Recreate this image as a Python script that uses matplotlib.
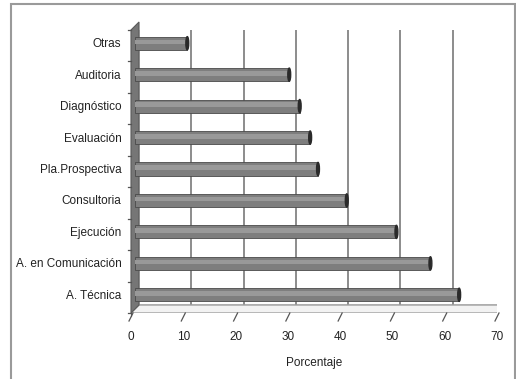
import numpy as np
import matplotlib.pyplot as plt
from matplotlib.patches import Polygon, Rectangle, Ellipse
from matplotlib.transforms import ScaledTranslation

plt.rcParams['font.family'] = ['Liberation Sans', 'DejaVu Sans']

# data (bottom to top)
categorias = ['A. Técnica', 'A. en Comunicación', 'Ejecución', 'Consultoria',
              'Pla.Prospectiva', 'Evaluación', 'Diagnóstico', 'Auditoria', 'Otras']
porcentajes = [62, 56.5, 50, 40.5, 35, 33.5, 31.5, 29.5, 10]
xticks = [0, 10, 20, 30, 40, 50, 60, 70]

W, H, DPI = 516, 379, 100
fig = plt.figure(figsize=(W / DPI, H / DPI), dpi=DPI)

# front plane of the pseudo-3d box, in pixels
left, right, bottom, top = 131, 497, 313, 30
ax = fig.add_axes([left / W, (H - bottom) / H, (right - left) / W, (bottom - top) / H])
ax.set_xlim(0, 70)
ax.set_ylim(-0.5, len(categorias) - 0.5)
for s in ax.spines.values():
    s.set_visible(False)

y = np.arange(len(categorias))
ymin, ymax = -0.5, len(categorias) - 0.5
xpp = 70 / (right - left)        # data units per pixel
ypp = len(categorias) / (bottom - top)
depth_x, depth_y = 8, 8          # pixel depth of the box
dx, dy = depth_x * xpp, depth_y * ypp

def shift(px, py):
    return ax.transData + ScaledTranslation(px / DPI, py / DPI, fig.dpi_scale_trans)

# back wall and gridlines
back = shift(depth_x, depth_y)
ax.add_patch(Rectangle((0, ymin), 70, ymax - ymin, facecolor='white',
                       edgecolor='#c8c8c8', lw=1.2, transform=back, zorder=0))
for v in xticks[1:-1]:
    ax.plot([v, v], [ymin, ymax], color='#8c8c8c', lw=1.4, transform=back, zorder=1)

# floor
ax.add_patch(Polygon([(0, ymin), (70, ymin), (70 + dx, ymin + dy), (dx, ymin + dy)],
                     closed=True, facecolor='#f2f2f2', edgecolor='#a0a0a0', lw=1,
                     zorder=1))
ax.plot([0, 70], [ymin - 3 * ypp] * 2, color='#b0b0b0', lw=1, zorder=1)
ax.plot([70, 70], [ymin, ymin - 3 * ypp], color='#b0b0b0', lw=1, zorder=1)

# left wall
ax.add_patch(Polygon([(0, ymin), (0, ymax), (dx, ymax + dy), (dx, ymin + dy)],
                     closed=True, facecolor='#767676', edgecolor='#5a5a5a', lw=0.8,
                     zorder=2, clip_on=False))
ax.plot([0, 0], [ymin - 3 * ypp, ymin], color='#5a5a5a', lw=0.8, zorder=2, clip_on=False)

# slanted ticks on the floor edge
for v in xticks:
    ax.plot([v + 2 * xpp, v - 2 * xpp], [ymin, ymin - 8 * ypp], color='#555555',
            lw=0.9, clip_on=False, zorder=3)

# left ticks at category boundaries
for b in np.arange(ymin, ymax + 1):
    ax.plot([-3 * xpp, 0], [b, b], color='#555555', lw=0.9, clip_on=False, zorder=3)

# cylinder bars
bt = shift(4, 2.5)
bh = 0.42
ax.barh(y, porcentajes, height=bh, color='#7e7e7e', edgecolor='#4a4a4a', lw=0.6,
        transform=bt, zorder=4)
ax.barh(y + bh * 0.1, porcentajes, height=bh * 0.35, color='#999999', lw=0,
        transform=bt, zorder=5)
for yi, v in zip(y, porcentajes):
    ax.add_patch(Ellipse((v, yi), 0.55, bh, facecolor='#2a2a2a', edgecolor='#2a2a2a',
                         transform=bt, zorder=6))

# axis labels
ax.set_yticks(y)
ax.set_yticklabels(categorias, fontsize=8.5, color='#222222')
ax.tick_params(axis='y', length=0, pad=7)
for lab in ax.get_yticklabels():
    lab.set_transform(lab.get_transform() + ScaledTranslation(0, 3 / DPI, fig.dpi_scale_trans))
ax.set_xticks(xticks)
ax.set_xticklabels([str(t) for t in xticks], fontsize=8.5, color='#222222')
ax.tick_params(axis='x', length=0, pad=13)
ax.set_xlabel('Porcentaje', fontsize=8.5, color='#222222', labelpad=10)

# outer frame
fig.add_artist(Rectangle((11 / W, -0.01), (W - 12) / W, (H - 4) / H + 0.01,
                         transform=fig.transFigure, fill=False,
                         edgecolor='#9a9a9a', lw=1.5))

fig.savefig('out.png', dpi=DPI)
